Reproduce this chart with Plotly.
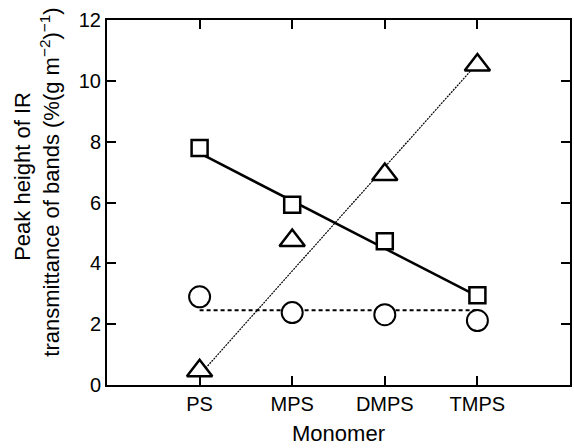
import plotly.graph_objects as go

monomers = ["PS", "MPS", "DMPS", "TMPS"]
squares = [7.79, 5.93, 4.73, 2.95]
triangles = [0.47, 4.75, 6.92, 10.52]
circles = [2.90, 2.38, 2.31, 2.12]
# trend lines read at PS and TMPS
trend_x = ["PS", "TMPS"]
square_trend = [7.62, 2.92]
triangle_trend = [0.33, 10.58]
circle_trend = [2.46, 2.46]
y_ticks = [0, 2, 4, 6, 8, 10, 12]

FONT = "Liberation Sans, Arial, sans-serif"
fig = go.Figure()

fig.add_trace(go.Scatter(x=trend_x, y=triangle_trend, mode="lines",
                         line=dict(color="black", width=1.2, dash="2px,1px"), showlegend=False))
fig.add_trace(go.Scatter(x=trend_x, y=circle_trend, mode="lines",
                         line=dict(color="black", width=2, dash="4px,3px"), showlegend=False))
fig.add_trace(go.Scatter(x=trend_x, y=square_trend, mode="lines",
                         line=dict(color="black", width=2.5), showlegend=False))

fig.add_trace(go.Scatter(x=monomers, y=circles, mode="markers",
                         marker=dict(symbol="circle", size=21, color="white",
                                     line=dict(color="black", width=2)), showlegend=False))
fig.add_trace(go.Scatter(x=monomers, y=squares, mode="markers",
                         marker=dict(symbol="square", size=16, color="white",
                                     line=dict(color="black", width=2.5)), showlegend=False))
fig.add_trace(go.Scatter(x=monomers, y=triangles, mode="markers",
                         marker=dict(symbol="triangle-up", size=22, color="white",
                                     line=dict(color="black", width=2.5)), showlegend=False))

fig.update_layout(
    width=574, height=448,
    margin=dict(l=107, r=2, t=20, b=63),
    paper_bgcolor="white", plot_bgcolor="white",
    font=dict(family=FONT, size=20, color="black"),
    xaxis=dict(type="category", categoryorder="array", categoryarray=monomers,
               range=[-1, 4], showline=True, linecolor="black", linewidth=2,
               mirror="ticks", ticks="inside", ticklen=9, tickwidth=1.5, tickcolor="black",
               showgrid=False, zeroline=False,
               title=dict(text="Monomer", font=dict(size=22), standoff=12)),
    yaxis=dict(range=[0, 12], tickvals=y_ticks, showline=True, linecolor="black", linewidth=2,
               mirror="ticks", ticks="inside", ticklen=9, tickwidth=1.5, tickcolor="black",
               showgrid=False, zeroline=False),
    annotations=[
        dict(text="Peak height of IR", textangle=-90, xref="paper", yref="paper",
             x=-0.183, y=0.571, xanchor="center", yanchor="middle", showarrow=False,
             font=dict(size=22)),
        dict(text="transmittance of bands (%(g m<sup>−2</sup>)<sup>−1</sup>)", textangle=-90,
             xref="paper", yref="paper", x=-0.1226, y=0.555, xanchor="center",
             yanchor="middle", showarrow=False, font=dict(size=22)),
    ],
)

fig.write_html("out.html")
